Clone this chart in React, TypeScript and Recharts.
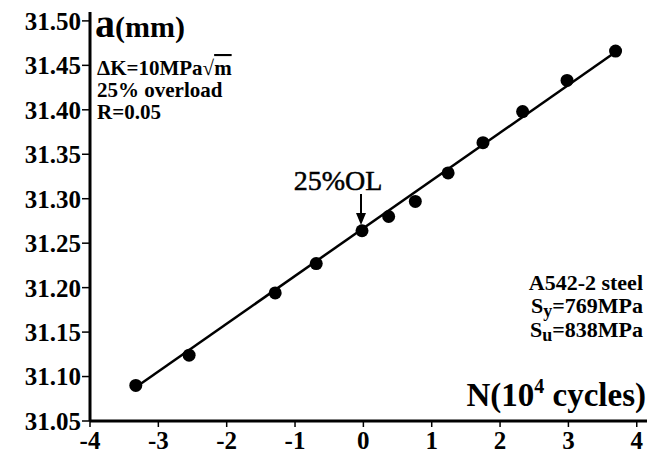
import React from 'react';
import { ScatterChart, Scatter, XAxis, YAxis } from 'recharts';

// measured crack length a (mm) vs N (10^4 cycles)
const cycles = [-3.33, -2.55, -1.29, -0.69, -0.02, 0.37, 0.76, 1.24, 1.75, 2.33, 2.98, 3.69];
const crackLength = [31.09, 31.124, 31.194, 31.227, 31.264, 31.28, 31.297, 31.329, 31.363, 31.398, 31.433, 31.466];

// fitted line ends
const fitX = [-3.33, 3.69];
const fitY = [31.088, 31.465];

const xTicks = [-4, -3, -2, -1, 0, 1, 2, 3, 4];
const yTicks = [31.05, 31.1, 31.15, 31.2, 31.25, 31.3, 31.35, 31.4, 31.45, 31.5];

const points = cycles.map((x, i) => ({ x, y: crackLength[i] }));
const fit = fitX.map((x, i) => ({ x, y: fitY[i] }));

const FONT = '"Liberation Serif", "Times New Roman", serif';
const tickStyle = { fontSize: 25, fontWeight: 700, fill: '#000', fontFamily: FONT };

const App: React.FC = () => {
  return (
    <div style={{ position: 'absolute', left: 0, top: 0, width: 660, height: 454, background: '#fff' }}>
      <ScatterChart width={660} height={454} margin={{ top: 12, right: 13, left: 10, bottom: 0 }}>
        <XAxis
          type="number"
          dataKey="x"
          domain={[-4, 4.15]}
          ticks={xTicks}
          height={33}
          axisLine={{ stroke: '#000', strokeWidth: 3 }}
          tickLine={{ stroke: '#000', strokeWidth: 1.5 }}
          tickSize={6}
          tickMargin={4}
          tick={tickStyle}
          allowDataOverflow
        />
        <YAxis
          type="number"
          dataKey="y"
          domain={[31.05, 31.51]}
          ticks={yTicks}
          width={80}
          axisLine={{ stroke: '#000', strokeWidth: 3 }}
          tickLine={{ stroke: '#000', strokeWidth: 1.5 }}
          tickSize={8}
          tickMargin={1}
          tick={tickStyle}
          tickFormatter={(v: number) => v.toFixed(2)}
          allowDataOverflow
        />
        <Scatter
          data={fit}
          line={{ stroke: '#000', strokeWidth: 2.5 }}
          shape={() => <g />}
          isAnimationActive={false}
        />
        <Scatter
          data={points}
          fill="#000"
          isAnimationActive={false}
          shape={(p: any) => <circle cx={p.cx} cy={p.cy} r={6.5} fill="#000" />}
        />
      </ScatterChart>
      <svg width={660} height={454} style={{ position: 'absolute', left: 0, top: 0, pointerEvents: 'none' }}>
        <g fontFamily={FONT} fontWeight={700} fill="#000">
          <text x={95} y={37}>
            <tspan fontSize={40}>a</tspan>
            <tspan fontSize={30}>(mm)</tspan>
          </text>
          <text x={97} y={75} fontSize={21}>
            ΔK=10MPa√<tspan style={{ textDecoration: 'overline' }}>m</tspan>
          </text>
          <text x={97} y={97} fontSize={21}>25% overload</text>
          <text x={97} y={119} fontSize={21}>R=0.05</text>

          <text x={643} y={290} fontSize={22} textAnchor="end">A542-2 steel</text>
          <text x={643} y={313} fontSize={22} textAnchor="end">
            S<tspan fontSize={18} dy={4}>y</tspan><tspan dy={-4}>=769MPa</tspan>
          </text>
          <text x={643} y={337} fontSize={22} textAnchor="end">
            S<tspan fontSize={18} dy={4}>u</tspan><tspan dy={-4}>=838MPa</tspan>
          </text>

          <text x={646} y={406} fontSize={33} textAnchor="end">
            N(10<tspan fontSize={20} dy={-13}>4</tspan><tspan dy={13}> cycles)</tspan>
          </text>
        </g>
        <text x={338} y={190} fontFamily={FONT} fontSize={28} textAnchor="middle" fill="#000" stroke="#000" strokeWidth={0.5}>25%OL</text>
        <line x1={361} y1={194} x2={361} y2={215} stroke="#000" strokeWidth={2} />
        <polygon points="356,213 366,213 361,225" fill="#000" />
      </svg>
    </div>
  );
};

export default App;
